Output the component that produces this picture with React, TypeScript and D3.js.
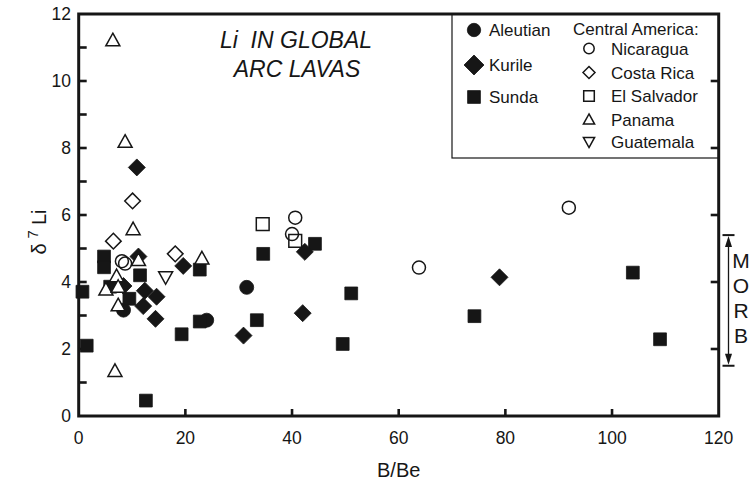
import React from "react";
import * as d3 from "d3";

// B/Be vs δ7Li for arc lavas, grouped by arc
const aleutian: [number, number][] = [[8.4, 3.16], [24, 2.86], [31.5, 3.84]];
const sunda: [number, number][] = [
  [0.7, 3.71], [1.5, 2.1], [4.75, 4.76], [4.75, 4.44], [11.5, 4.2], [22.7, 4.37],
  [5.9, 3.86], [9.5, 3.5], [22.7, 2.82], [19.3, 2.44], [12.6, 0.46], [34.6, 4.84],
  [44.3, 5.14], [33.4, 2.86], [49.5, 2.15], [51.1, 3.66], [74.2, 2.98], [103.9, 4.28], [109, 2.29],
];
const kurile: [number, number][] = [
  [10.9, 7.42], [11.2, 4.76], [19.6, 4.48], [8.4, 3.88], [12.4, 3.74], [14.6, 3.56],
  [12.1, 3.28], [14.4, 2.9], [42.4, 4.9], [42, 3.07], [30.9, 2.4], [78.9, 4.14],
];
const elSalvador: [number, number][] = [[34.5, 5.73], [40.6, 5.23]];
const nicaragua: [number, number][] = [[8.1, 4.62], [8.7, 4.55], [40.6, 5.92], [40, 5.43], [63.8, 4.43], [91.9, 6.22]];
const costaRica: [number, number][] = [[10.1, 6.42], [6.5, 5.22], [18.1, 4.84]];
const panama: [number, number][] = [
  [6.4, 11.22], [8.7, 8.19], [10.2, 5.58], [11.2, 4.66], [23.1, 4.71], [7.1, 4.18],
  [5.1, 3.78], [7.4, 3.86], [7.4, 3.31], [6.8, 1.35],
];
const guatemala: [number, number][] = [[16.3, 4.14]];

const xTicks = [0, 20, 40, 60, 80, 100, 120];
const yTicks = [0, 2, 4, 6, 8, 10, 12];
const morbRange: [number, number] = [1.5, 5.4];

const ink = "#161616";
const font = "Arial, 'Liberation Sans', Helvetica, sans-serif";

type Shape = "circle" | "square" | "diamond" | "up" | "down";

function shapePath(shape: Shape, cx: number, cy: number, s: number): string {
  const p = d3.path();
  if (shape === "circle") {
    p.moveTo(cx + s, cy);
    p.arc(cx, cy, s, 0, Math.PI * 2);
  } else if (shape === "square") {
    p.rect(cx - s, cy - s, 2 * s, 2 * s);
  } else if (shape === "diamond") {
    p.moveTo(cx, cy - s);
    p.lineTo(cx + s, cy);
    p.lineTo(cx, cy + s);
    p.lineTo(cx - s, cy);
    p.closePath();
  } else if (shape === "up") {
    const h = s * 1.8;
    p.moveTo(cx, cy - h * 0.55);
    p.lineTo(cx + s, cy + h * 0.45);
    p.lineTo(cx - s, cy + h * 0.45);
    p.closePath();
  } else {
    const h = s * 1.8;
    p.moveTo(cx, cy + h * 0.55);
    p.lineTo(cx + s, cy - h * 0.45);
    p.lineTo(cx - s, cy - h * 0.45);
    p.closePath();
  }
  return p.toString();
}

interface Series {
  name: string;
  data: [number, number][];
  shape: Shape;
  filled: boolean;
  size: number;
  legendSize: number;
  fillNone?: boolean;
}

const series: Series[] = [
  { name: "Aleutian", data: aleutian, shape: "circle", filled: true, size: 7, legendSize: 6.7 },
  { name: "Sunda", data: sunda, shape: "square", filled: true, size: 6.4, legendSize: 6.4 },
  { name: "Kurile", data: kurile, shape: "diamond", filled: true, size: 8.5, legendSize: 10 },
  { name: "El Salvador", data: elSalvador, shape: "square", filled: false, size: 6.4, legendSize: 5.3, fillNone: true },
  { name: "Nicaragua", data: nicaragua, shape: "circle", filled: false, size: 6.5, legendSize: 5.2, fillNone: true },
  { name: "Costa Rica", data: costaRica, shape: "diamond", filled: false, size: 7.8, legendSize: 6 },
  { name: "Panama", data: panama, shape: "up", filled: false, size: 7, legendSize: 5.6 },
  { name: "Guatemala", data: guatemala, shape: "down", filled: false, size: 7, legendSize: 5.6 },
];

export default function App() {
  const W = 751, H = 485;
  const x = d3.scaleLinear().domain([0, 120]).range([78.7, 718.7]);
  const y = d3.scaleLinear().domain([0, 12]).range([416, 14]);
  const [x0, x1] = x.range();
  const [y0, y1] = y.range();

  const minorY = d3.range(1, 12);
  const rightTicks = yTicks.filter((t) => t > 0 && t < 12);
  const bottomTicks = xTicks.filter((t) => t > 0 && t < 120);

  const byName = (n: string) => series.find((s) => s.name === n)!;
  const leftLegend = ["Aleutian", "Kurile", "Sunda"];
  const leftLegendY = [30, 65, 97];
  const rightLegend = ["Nicaragua", "Costa Rica", "El Salvador", "Panama", "Guatemala"];
  const rightLegendY = [48.5, 72.5, 96, 119.5, 142];

  const mTop = y(morbRange[1]);
  const mBot = y(morbRange[0]);
  const mx = 728.5;

  return (
    <svg width={W} height={H} style={{ position: "absolute", left: 0, top: 0, background: "#fff" }} fontFamily={font}>
      <rect x={0} y={0} width={W} height={H} fill="#fff" />

      {/* legend box */}
      <rect x={452} y={y1} width={x1 - 452} height={158 - y1} fill="#fff" stroke={ink} strokeWidth={1.2} />

      {/* frame */}
      <rect x={x0} y={y1} width={x1 - x0} height={y0 - y1} fill="none" stroke={ink} strokeWidth={3} />

      {/* ticks */}
      {minorY.map((t) => (
        <line key={"ly" + t} x1={x0} x2={x0 + 8} y1={y(t)} y2={y(t)} stroke={ink} strokeWidth={2.6} />
      ))}
      {rightTicks.map((t) => (
        <line key={"ry" + t} x1={x1} x2={x1 - 8} y1={y(t)} y2={y(t)} stroke={ink} strokeWidth={2.6} />
      ))}
      {bottomTicks.map((t) => (
        <line key={"bx" + t} x1={x(t)} x2={x(t)} y1={y0} y2={y0 - 7} stroke={ink} strokeWidth={2.6} />
      ))}

      {/* tick labels */}
      {yTicks.map((t) => (
        <text key={"yl" + t} x={71} y={y(t) + 6} textAnchor="end" fontSize={17.5} fill={ink}>
          {t}
        </text>
      ))}
      {xTicks.map((t) => (
        <text key={"xl" + t} x={x(t)} y={444} textAnchor="middle" fontSize={17.5} fill={ink}>
          {t}
        </text>
      ))}

      {/* axis titles */}
      <text x={(x0 + x1) / 2} y={477} textAnchor="middle" fontSize={20} fill={ink}>
        B/Be
      </text>
      <text transform={`translate(46,232) rotate(-90)`} textAnchor="middle" fontSize={20} fill={ink}>
        δ
        <tspan dy={-8} fontSize={15} dx={5}>7</tspan>
        <tspan dy={8} dx={5}>Li</tspan>
      </text>

      {/* title */}
      <text x={296} y={48} textAnchor="middle" fontSize={23} fontStyle="italic" fill={ink} xmlSpace="preserve">
        {"Li\u00a0\u00a0IN GLOBAL"}
      </text>
      <text x={297} y={77} textAnchor="middle" fontSize={23} fontStyle="italic" fill={ink}>
        ARC LAVAS
      </text>

      {/* data */}
      {series.map((s) => (
        <g key={s.name}>
          {s.data.map((d, i) => (
            <path
              key={i}
              d={shapePath(s.shape, x(d[0]), y(d[1]), s.size)}
              fill={s.filled ? ink : s.fillNone ? "none" : "#fff"}
              stroke={ink}
              strokeWidth={s.filled ? 0.8 : 1.5}
            />
          ))}
        </g>
      ))}

      {/* legend */}
      {leftLegend.map((n, i) => {
        const s = byName(n);
        return (
          <g key={n}>
            <path d={shapePath(s.shape, 474, leftLegendY[i], s.legendSize)} fill={ink} stroke={ink} strokeWidth={0.8} />
            <text x={489} y={leftLegendY[i] + 6} fontSize={17} fill={ink}>
              {n}
            </text>
          </g>
        );
      })}
      <text x={573} y={35} fontSize={17} fill={ink}>
        Central America:
      </text>
      {rightLegend.map((n, i) => {
        const s = byName(n);
        return (
          <g key={n}>
            <path d={shapePath(s.shape, 589, rightLegendY[i], s.legendSize)} fill="none" stroke={ink} strokeWidth={1.5} />
            <text x={611} y={rightLegendY[i] + 6} fontSize={17} fill={ink}>
              {n}
            </text>
          </g>
        );
      })}

      {/* MORB range */}
      <line x1={mx} x2={mx} y1={mTop + 4} y2={mBot - 4} stroke={ink} strokeWidth={1.3} />
      <line x1={mx - 6} x2={mx + 6} y1={mTop} y2={mTop} stroke={ink} strokeWidth={2} />
      <line x1={mx - 6} x2={mx + 6} y1={mBot} y2={mBot} stroke={ink} strokeWidth={2} />
      <path d={`M${mx},${mTop + 1}L${mx + 3.5},${mTop + 12}L${mx - 3.5},${mTop + 12}Z`} fill={ink} />
      <path d={`M${mx},${mBot - 1}L${mx + 3.5},${mBot - 12}L${mx - 3.5},${mBot - 12}Z`} fill={ink} />
      {["M", "O", "R", "B"].map((c, i) => (
        <text key={c} x={741} y={268 + i * 25} textAnchor="middle" fontSize={21} fill={ink}>
          {c}
        </text>
      ))}
    </svg>
  );
}
